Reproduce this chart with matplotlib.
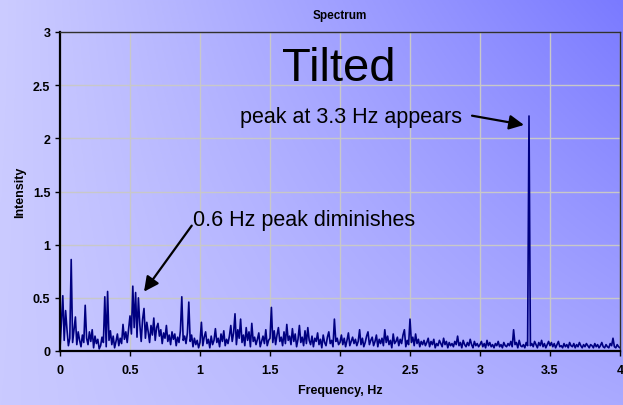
import numpy as np
import matplotlib
matplotlib.use('Agg')
import matplotlib.pyplot as plt

plt.rcParams['font.family'] = ['Liberation Sans', 'DejaVu Sans']

# spectrum sampled every 0.01 Hz from 0 to 4 Hz
freq_step = 0.01
intensity = [
    0.02, 0.27, 0.52, 0.10, 0.38, 0.20, 0.05, 0.12, 0.86, 0.08,   # 0.0
    0.20, 0.32, 0.06, 0.18, 0.10, 0.04, 0.15, 0.08, 0.43, 0.12,   # 0.1
    0.06, 0.18, 0.09, 0.20, 0.03, 0.14, 0.07, 0.11, 0.02, 0.05,   # 0.2
    0.13, 0.08, 0.51, 0.04, 0.56, 0.10, 0.19, 0.06, 0.14, 0.03,   # 0.3
    0.09, 0.16, 0.05, 0.12, 0.07, 0.25, 0.11, 0.18, 0.08, 0.21,   # 0.4
    0.33, 0.16, 0.61, 0.22, 0.55, 0.13, 0.50, 0.25, 0.09, 0.30,   # 0.5
    0.40, 0.12, 0.27, 0.18, 0.08, 0.24, 0.15, 0.31, 0.10, 0.22,   # 0.6
    0.26, 0.14, 0.20, 0.07, 0.17, 0.12, 0.24, 0.09, 0.15, 0.06,   # 0.7
    0.18, 0.11, 0.16, 0.05, 0.13, 0.08, 0.19, 0.51, 0.10, 0.14,   # 0.8
    0.07, 0.17, 0.46, 0.09, 0.15, 0.04, 0.12, 0.06, 0.10, 0.03,   # 0.9
    0.08, 0.27, 0.05, 0.13, 0.18, 0.07, 0.11, 0.03, 0.14, 0.06,   # 1.0
    0.10, 0.21, 0.08, 0.12, 0.04, 0.16, 0.09, 0.19, 0.05, 0.11,   # 1.1
    0.07, 0.14, 0.24, 0.09, 0.17, 0.35, 0.06, 0.20, 0.12, 0.30,   # 1.2
    0.08, 0.15, 0.05, 0.22, 0.10, 0.18, 0.04, 0.26, 0.09, 0.13,   # 1.3
    0.06, 0.11, 0.17, 0.04, 0.09, 0.14, 0.07, 0.20, 0.05, 0.10,   # 1.4
    0.12, 0.41, 0.08, 0.19, 0.06, 0.15, 0.22, 0.09, 0.13, 0.05,   # 1.5
    0.18, 0.07, 0.25, 0.10, 0.14, 0.06, 0.21, 0.09, 0.16, 0.04,   # 1.6
    0.11, 0.24, 0.08, 0.13, 0.05, 0.19, 0.07, 0.22, 0.10, 0.06,   # 1.7
    0.14, 0.04, 0.12, 0.09, 0.17, 0.06, 0.11, 0.03, 0.15, 0.08,   # 1.8
    0.05, 0.13, 0.18, 0.07, 0.10, 0.04, 0.30, 0.09, 0.12, 0.06,   # 1.9
    0.08, 0.15, 0.06, 0.12, 0.04, 0.10, 0.17, 0.05, 0.09, 0.13,   # 2.0
    0.07, 0.11, 0.05, 0.09, 0.20, 0.06, 0.12, 0.04, 0.08, 0.14,   # 2.1
    0.18, 0.06, 0.10, 0.13, 0.05, 0.09, 0.15, 0.04, 0.11, 0.07,   # 2.2
    0.12, 0.05, 0.20, 0.08, 0.14, 0.06, 0.10, 0.03, 0.16, 0.07,   # 2.3
    0.09, 0.13, 0.05, 0.11, 0.07, 0.15, 0.20, 0.04, 0.10, 0.06,   # 2.4
    0.30, 0.08, 0.13, 0.05, 0.16, 0.07, 0.11, 0.04, 0.09, 0.06,   # 2.5
    0.10, 0.05, 0.08, 0.12, 0.04, 0.09, 0.06, 0.11, 0.03, 0.07,   # 2.6
    0.05, 0.10, 0.07, 0.04, 0.12, 0.06, 0.09, 0.03, 0.08, 0.05,   # 2.7
    0.07, 0.04, 0.09, 0.06, 0.14, 0.05, 0.08, 0.03, 0.10, 0.06,   # 2.8
    0.04, 0.08, 0.05, 0.11, 0.06, 0.03, 0.09, 0.05, 0.07, 0.04,   # 2.9
    0.06, 0.09, 0.04, 0.07, 0.03, 0.10, 0.05, 0.08, 0.04, 0.06,   # 3.0
    0.03, 0.07, 0.05, 0.09, 0.04, 0.06, 0.03, 0.08, 0.05, 0.04,   # 3.1
    0.07, 0.05, 0.09, 0.04, 0.20, 0.06, 0.08, 0.03, 0.10, 0.05,   # 3.2
    0.04, 0.06, 0.03, 0.08, 0.05, 2.21, 0.05, 0.07, 0.04, 0.09,   # 3.3
    0.06, 0.03, 0.08, 0.05, 0.10, 0.04, 0.07, 0.03, 0.06, 0.09,   # 3.4
    0.05, 0.08, 0.04, 0.07, 0.03, 0.06, 0.09, 0.04, 0.05, 0.03,   # 3.5
    0.07, 0.04, 0.06, 0.03, 0.08, 0.05, 0.04, 0.07, 0.03, 0.06,   # 3.6
    0.04, 0.08, 0.05, 0.03, 0.06, 0.04, 0.07, 0.05, 0.03, 0.06,   # 3.7
    0.05, 0.03, 0.07, 0.04, 0.06, 0.03, 0.05, 0.08, 0.04, 0.03,   # 3.8
    0.06, 0.04, 0.03, 0.07, 0.05, 0.12, 0.04, 0.03, 0.06, 0.04,   # 3.9
    0.03,
]
freq = np.arange(len(intensity)) * freq_step

x_ticks = [0, 0.5, 1, 1.5, 2, 2.5, 3, 3.5, 4]
x_tick_labels = ['0', '0.5', '1', '1.5', '2', '2.5', '3', '3.5', '4']
y_ticks = [0, 0.5, 1, 1.5, 2, 2.5, 3]
y_tick_labels = ['0', '0.5', '1', '1.5', '2', '2.5', '3']

fig = plt.figure(figsize=(6.23, 4.06), dpi=100)

# background: lavender fading to blue towards the upper right
bg = fig.add_axes([0, 0, 1, 1], zorder=-10)
tl = np.array([204, 204, 255]) / 255.
tr = np.array([122, 122, 255]) / 255.
bl = np.array([202, 202, 255]) / 255.
br = np.array([170, 170, 255]) / 255.
u = np.linspace(0, 1, 300)[None, :, None]
v = np.linspace(0, 1, 200)[:, None, None]
grad = tl * (1 - u) * (1 - v) + tr * u * (1 - v) + bl * (1 - u) * v + br * u * v
bg.imshow(grad, aspect='auto', extent=[0, 1, 0, 1], origin='upper')
bg.axis('off')

ax = fig.add_axes([60 / 623, 1 - 352 / 406, 560 / 623, 319 / 406])
ax.patch.set_alpha(0)

ax.plot(freq, intensity, color='#000080', lw=1.2)

ax.set_xlim(0, 4)
ax.set_ylim(0, 3)
ax.set_xticks(x_ticks)
ax.set_xticklabels(x_tick_labels, fontsize=9, fontweight='bold')
ax.set_yticks(y_ticks)
ax.set_yticklabels(y_tick_labels, fontsize=9, fontweight='bold')
ax.tick_params(axis='both', direction='out', length=3.5, width=1.0, color='black')
ax.tick_params(axis='x', pad=5.5)
ax.tick_params(axis='y', pad=3.5)
ax.grid(True, color='#c8c8c8', lw=1.0)
ax.set_axisbelow(True)

for side in ['left', 'bottom']:
    ax.spines[side].set_linewidth(1.6)
    ax.spines[side].set_color('black')
for side in ['top', 'right']:
    ax.spines[side].set_linewidth(1.0)
    ax.spines[side].set_color('#303030')

ax.set_title('Spectrum', fontsize=8.5, fontweight='bold', pad=10)
ax.set_xlabel('Frequency, Hz', fontsize=9, fontweight='bold', labelpad=6)
ax.set_ylabel('Intensity', fontsize=9, fontweight='bold', labelpad=5)

ax.text(1.99, 2.55, 'Tilted', fontsize=34, ha='center', va='baseline')
ax.text(1.286, 2.154, 'peak at 3.3 Hz appears', fontsize=15.5, ha='left', va='baseline')
ax.text(0.95, 1.185, '0.6 Hz peak diminishes', fontsize=15.5, ha='left', va='baseline')

arrow = dict(arrowstyle='-|>', color='black', lw=1.6, mutation_scale=22, shrinkA=0, shrinkB=0)
ax.annotate('', xy=(3.314, 2.126), xytext=(2.943, 2.213), arrowprops=arrow)
ax.annotate('', xy=(0.60, 0.558), xytext=(0.941, 1.179), arrowprops=arrow)

fig.savefig('out.png', dpi=100)
